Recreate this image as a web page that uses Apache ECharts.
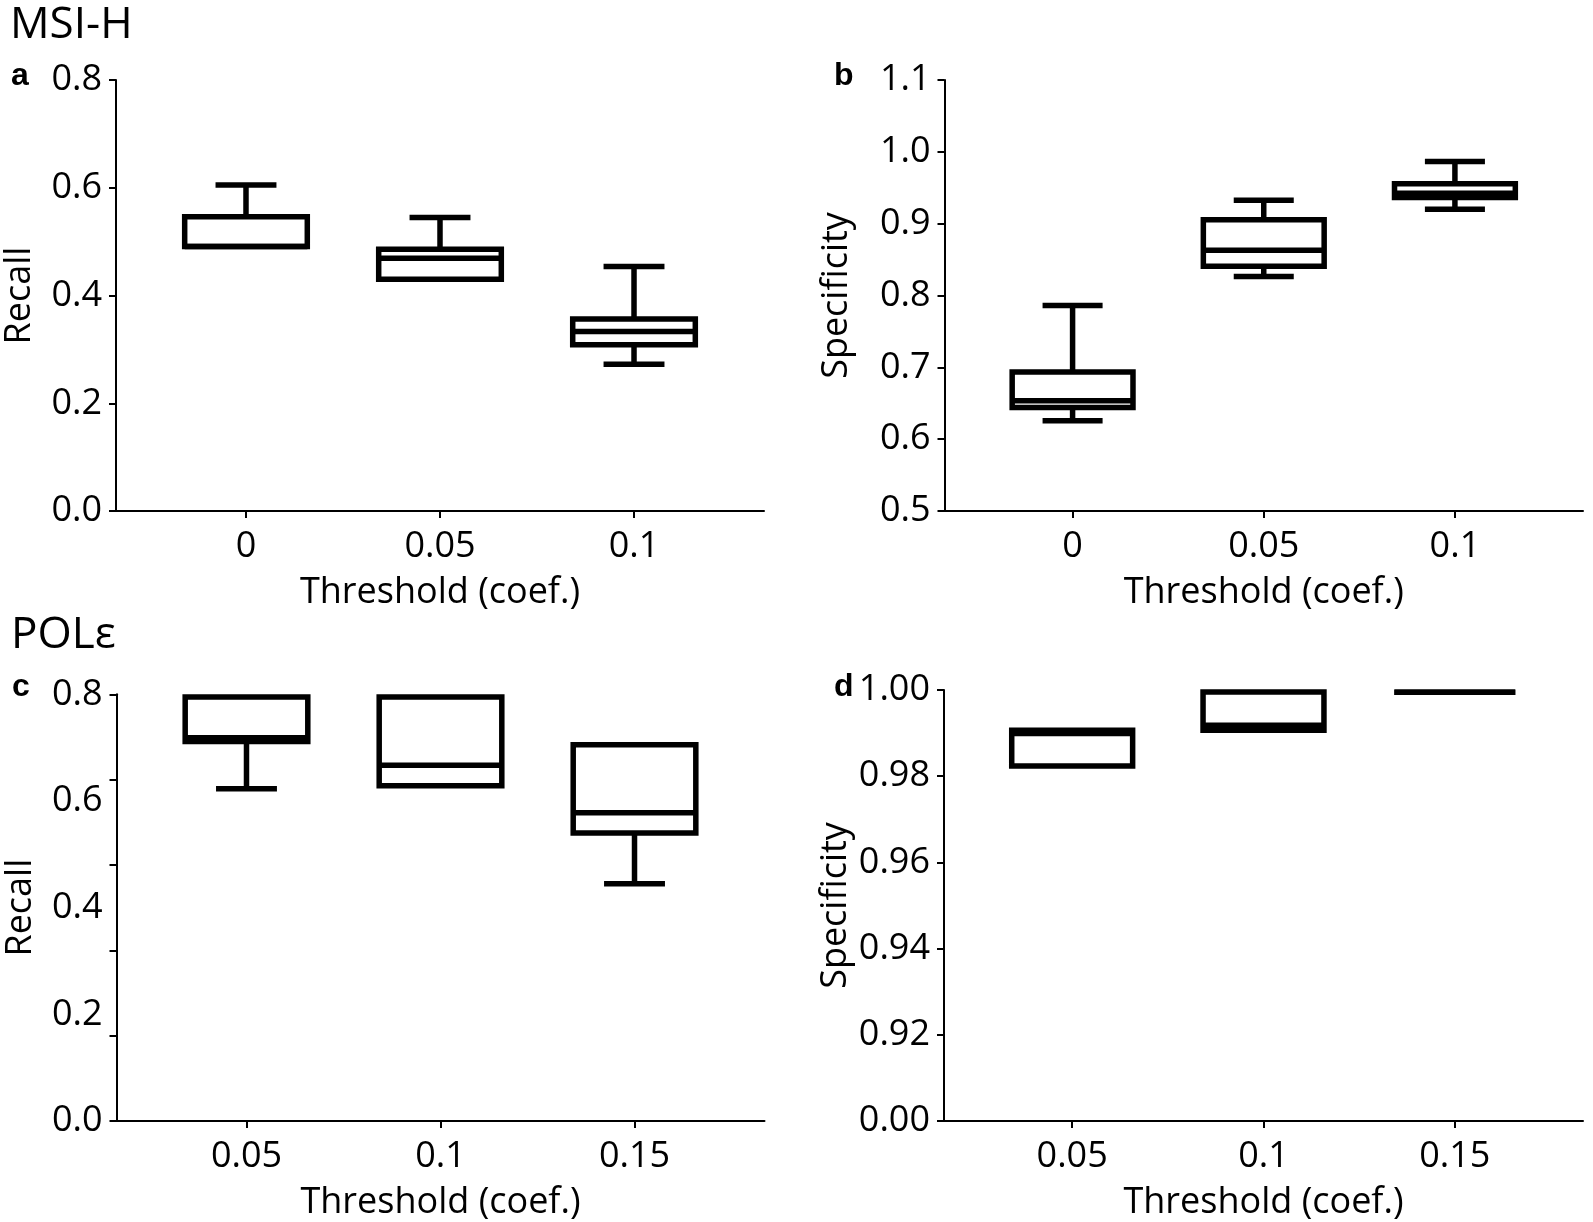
<!DOCTYPE html>
<html>
<head>
<meta charset="utf-8">
<script src="https://cdn.jsdelivr.net/npm/echarts@6/dist/echarts.min.js"></script>
<style>
  html, body { margin: 0; padding: 0; background: #fff; }
  #chart { width: 1593px; height: 1222px; }
</style>
</head>
<body>
<div id="chart"></div>
<script>
// ---------- data ----------
const thresholdsMSI = ['0', '0.05', '0.1'];
const thresholdsPOLE = ['0.05', '0.1', '0.15'];

// each box: [min, Q1, median, Q3, max]
const recallMSI = [
  [0.491, 0.491, 0.491, 0.546, 0.605],
  [0.430, 0.430, 0.469, 0.486, 0.545],
  [0.2725, 0.3087, 0.3333, 0.3565, 0.4536]
];
const specificityMSI = [
  [0.6255, 0.644, 0.6535, 0.6935, 0.786],
  [0.8266, 0.8408, 0.863, 0.9054, 0.9326],
  [0.9201, 0.9364, 0.9425, 0.9554, 0.9864]
];
const recallPOLE = [
  [0.6227, 0.7114, 0.7186, 0.7949, 0.7949],
  [0.6285, 0.6285, 0.667, 0.7949, 0.7949],
  [0.4447, 0.540, 0.5777, 0.7055, 0.7055]
];
const specificityPOLE = [
  [0.98236, 0.98236, 0.98991, 0.99064, 0.99064],
  [0.99064, 0.99064, 0.99182, 0.99955, 0.99955],
  [0.99945, 0.99945, 0.99945, 0.99945, 0.99945]
];

// tick values / labels
const xTickIdx = [0, 1, 2];
const yTicksA = [0, 0.2, 0.4, 0.6, 0.8];
const yTicksB = [0.5, 0.6, 0.7, 0.8, 0.9, 1.0, 1.1];
const yTickMarksC = [0, 0.16, 0.32, 0.48, 0.64, 0.8];
const yLabelsC = [0, 0.2, 0.4, 0.6, 0.8];
const yTicksD = [0.90, 0.92, 0.94, 0.96, 0.98, 1.00];
const yLabelsD = ['0.00', '0.92', '0.94', '0.96', '0.98', '1.00'];

// ---------- style ----------
const FONT = '"Open Sans", "Noto Sans", sans-serif';
const TXT = '#000';
const LW = 5.5;
const BOX_HALF = 0.316;
const CAP_HALF = 0.157;

function renderBox(params, api) {
  const x = api.value(0);
  const mn = api.value(1), q1 = api.value(2), md = api.value(3), q3 = api.value(4), mx = api.value(5);
  const st = { stroke: '#000', lineWidth: LW, fill: null, lineJoin: 'miter', lineCap: 'butt' };
  const bl = api.coord([x - BOX_HALF, q1]);
  const tr = api.coord([x + BOX_HALF, q3]);
  const c = api.coord([x, md]);
  const children = [];
  children.push({ type: 'rect', shape: { x: bl[0], y: tr[1], width: tr[0] - bl[0], height: bl[1] - tr[1] }, style: st });
  children.push({ type: 'line', shape: { x1: bl[0], y1: c[1], x2: tr[0], y2: c[1] }, style: st });
  if (mx > q3 + 1e-9) {
    const a = api.coord([x, q3]), b = api.coord([x, mx]);
    const l = api.coord([x - CAP_HALF, mx]), r = api.coord([x + CAP_HALF, mx]);
    children.push({ type: 'line', shape: { x1: a[0], y1: a[1], x2: b[0], y2: b[1] }, style: st });
    children.push({ type: 'line', shape: { x1: l[0], y1: l[1], x2: r[0], y2: r[1] }, style: st });
  }
  if (mn < q1 - 1e-9) {
    const a = api.coord([x, q1]), b = api.coord([x, mn]);
    const l = api.coord([x - CAP_HALF, mn]), r = api.coord([x + CAP_HALF, mn]);
    children.push({ type: 'line', shape: { x1: a[0], y1: a[1], x2: b[0], y2: b[1] }, style: st });
    children.push({ type: 'line', shape: { x1: l[0], y1: l[1], x2: r[0], y2: r[1] }, style: st });
  }
  return { type: 'group', children };
}

const axisLineStyle = { show: true, onZero: false, lineStyle: { color: '#000', width: 2 } };
const tickStyle = { show: true, length: 7, inside: false, lineStyle: { color: '#000', width: 2 } };
const labelFont = { color: TXT, fontFamily: FONT, fontSize: 36 };
const nameFont = { color: TXT, fontFamily: FONT, fontSize: 36 };

function xAxis(gridIndex, cats) {
  return {
    type: 'value', gridIndex, min: -0.67, max: 2.67,
    axisLine: axisLineStyle,
    axisTick: Object.assign({}, tickStyle, { customValues: xTickIdx }),
    axisLabel: Object.assign({}, labelFont, { customValues: xTickIdx, margin: 18, formatter: v => cats[Math.round(v)] }),
    splitLine: { show: false },
    name: 'Threshold (coef.)', nameLocation: 'middle', nameGap: 64,
    nameTextStyle: nameFont
  };
}

function yAxis(gridIndex, name, min, max, tickVals, labelVals, fmt, gap) {
  return {
    type: 'value', gridIndex, min, max,
    axisLine: axisLineStyle,
    axisTick: Object.assign({}, tickStyle, { customValues: tickVals }),
    axisLabel: Object.assign({}, labelFont, { customValues: labelVals, margin: 14, formatter: fmt }),
    splitLine: { show: false },
    name, nameLocation: 'middle', nameGap: gap, nameRotate: 90,
    nameTextStyle: nameFont
  };
}

function toSeries(arr) {
  return arr.map((b, i) => [i].concat(b));
}

const chart = echarts.init(document.getElementById('chart'), null, { renderer: 'canvas' });
chart.setOption({
  animation: false,
  backgroundColor: '#fff',
  grid: [
    { left: 116, top: 80, width: 648, height: 431 },
    { left: 944.5, top: 80, width: 638.5, height: 431 },
    { left: 116.5, top: 694.3, width: 648, height: 429 },
    { left: 944, top: 690, width: 639, height: 432.5 }
  ],
  xAxis: [
    xAxis(0, thresholdsMSI),
    xAxis(1, thresholdsMSI),
    xAxis(2, thresholdsPOLE),
    xAxis(3, thresholdsPOLE)
  ],
  yAxis: [
    yAxis(0, 'Recall', 0, 0.8, yTicksA, yTicksA, v => v.toFixed(1), 78),
    yAxis(1, 'Specificity', 0.5, 1.1, yTicksB, yTicksB, v => v.toFixed(1), 90),
    yAxis(2, 'Recall', 0, 0.8, yTickMarksC, yLabelsC, v => v.toFixed(1), 78),
    yAxis(3, 'Specificity', 0.9, 1.0, yTicksD, yTicksD,
      v => yLabelsD[yTicksD.findIndex(t => Math.abs(t - v) < 1e-6)], 90)
  ],
  series: [
    { type: 'custom', xAxisIndex: 0, yAxisIndex: 0, renderItem: renderBox, data: toSeries(recallMSI), clip: false },
    { type: 'custom', xAxisIndex: 1, yAxisIndex: 1, renderItem: renderBox, data: toSeries(specificityMSI), clip: false },
    { type: 'custom', xAxisIndex: 2, yAxisIndex: 2, renderItem: renderBox, data: toSeries(recallPOLE), clip: false },
    { type: 'custom', xAxisIndex: 3, yAxisIndex: 3, renderItem: renderBox, data: toSeries(specificityPOLE), clip: false }
  ],
  graphic: [
    { type: 'text', left: 10, top: 3, style: { text: 'MSI-H', font: '44px ' + FONT, fill: TXT } },
    { type: 'text', left: 11, top: 613, style: { text: 'POLε', font: '44px ' + FONT, fill: TXT } },
    { type: 'text', left: 11, top: 60, style: { text: 'a', font: 'bold 32px "Liberation Sans", Arial, sans-serif', fill: TXT } },
    { type: 'text', left: 834, top: 60, style: { text: 'b', font: 'bold 32px "Liberation Sans", Arial, sans-serif', fill: TXT } },
    { type: 'text', left: 12, top: 671, style: { text: 'c', font: 'bold 32px "Liberation Sans", Arial, sans-serif', fill: TXT } },
    { type: 'text', left: 834, top: 671, style: { text: 'd', font: 'bold 32px "Liberation Sans", Arial, sans-serif', fill: TXT } }
  ]
});
</script>
</body>
</html>
